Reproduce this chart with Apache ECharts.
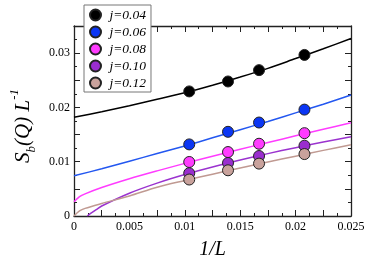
<!DOCTYPE html>
<html><head><meta charset="utf-8">
<script src="https://cdn.jsdelivr.net/npm/echarts@6/dist/echarts.min.js"></script>
<style>html,body{margin:0;padding:0;background:#fff}#c{width:381px;height:265px}</style>
</head><body><div id="c"></div>
<script>
// data points: x = 1/L
const invL = [0.0104, 0.0139, 0.0167, 0.0208];
const names = ['j=0.04', 'j=0.06', 'j=0.08', 'j=0.10', 'j=0.12'];
const pts004 = [0.02295, 0.02478, 0.02687, 0.02967];
const pts006 = [0.01319, 0.01551, 0.01722, 0.01960];
const pts008 = [0.00995, 0.01178, 0.01331, 0.01526];
const pts010 = [0.00788, 0.00977, 0.01105, 0.01295];
const pts012 = [0.00672, 0.00842, 0.00965, 0.01141];
// fitted curves
const fitX = [0, 0.0025, 0.005, 0.0075, 0.01, 0.0125, 0.015, 0.0175, 0.02, 0.0225, 0.025];
const fit004 = [0.0182, 0.0192, 0.0203, 0.0215, 0.0227, 0.0241, 0.0256, 0.0272, 0.0290, 0.0308, 0.0327];
const fit006 = [0.0074, 0.0087, 0.0101, 0.0115, 0.0129, 0.0144, 0.0159, 0.0174, 0.0190, 0.0206, 0.0223];
const fit008X = [0, 0.0005, 0.001, 0.0025, 0.005, 0.0075, 0.01, 0.0125, 0.015, 0.0175, 0.02, 0.0225, 0.025];
const fit008 = [0.00262, 0.00356, 0.00407, 0.00524, 0.00686, 0.00831, 0.00969, 0.01101, 0.01229, 0.01354, 0.01477, 0.01598, 0.01716];
const fit010X = [0.0012, 0.0015, 0.002, 0.0025, 0.005, 0.0075, 0.01, 0.0125, 0.015, 0.0175, 0.02, 0.0225, 0.025];
const fit010 = [0, 0.00047, 0.00117, 0.00185, 0.0042, 0.00606, 0.00764, 0.00904, 0.01032, 0.01149, 0.01259, 0.01362, 0.0146];
const fit012X = [0, 0.0005, 0.001, 0.0025, 0.005, 0.0075, 0.01, 0.0125, 0.015, 0.0175, 0.02, 0.0225, 0.025];
const fit012 = [0, 0.00093, 0.0014, 0.0023, 0.0037, 0.0053, 0.00653, 0.0077, 0.00884, 0.00994, 0.01102, 0.01209, 0.01313];
const xTicks = ['0', '0.005', '0.01', '0.015', '0.02', '0.025'];
const yTicks = ['0', '0.01', '0.02', '0.03'];

const lineColors = ['#000000', '#2357f0', '#ff3cff', '#9b33cf', '#c09a92'];
const markColors = ['#000000', '#0b36f4', '#ff3cff', '#9a2dcf', '#c9a29c'];
const pts = [pts004, pts006, pts008, pts010, pts012];
const fits = [[fitX, fit004], [fitX, fit006], [fit008X, fit008], [fit010X, fit010], [fit012X, fit012]];

const serif = 'Liberation Serif';
const zip = (a, b) => a.map((v, i) => [v, b[i]]);
const series = [];
fits.forEach((f, i) => {
  series.push({type: 'line', name: 'fit' + i, data: zip(f[0], f[1]), smooth: 0.3, symbol: 'none',
    lineStyle: {color: lineColors[i], width: 1.5}, z: 2, silent: true});
});
pts.forEach((p, i) => {
  series.push({type: 'scatter', name: names[i], data: zip(invL, p), symbolSize: 11,
    itemStyle: {color: markColors[i], borderColor: '#222', borderWidth: 1, opacity: 1}, z: 3});
});

const axisLine = {show: true, onZero: false, lineStyle: {color: '#222', width: 1.3}};
const tick = {show: true, inside: true, length: 6, lineStyle: {color: '#222', width: 1}};
const minor = {show: true, splitNumber: 2, length: 3, lineStyle: {color: '#222', width: 1}};
function xAxis(pos, labels) {
  return {type: 'value', position: pos, min: 0, max: 0.025, interval: 0.0025,
    axisLine: axisLine, axisTick: tick, minorTick: minor,
    axisLabel: labels ? {show: true, margin: 5, fontFamily: serif, fontSize: 12, color: '#000',
      formatter: (v) => { const k = Math.round(v / 0.005); return (Math.abs(v - k * 0.005) < 1e-9 && xTicks[k] !== undefined) ? xTicks[k] : ''; }} : {show: false},
    splitLine: {show: false}, minorSplitLine: {show: false},
    name: labels ? '1/L' : '', nameLocation: 'middle', nameGap: 24,
    nameTextStyle: {fontFamily: serif, fontStyle: 'italic', fontSize: 20, color: '#000'}};
}
function yAxis(pos, labels) {
  return {type: 'value', position: pos, min: 0, max: 0.035, interval: 0.005,
    axisLine: axisLine, axisTick: tick, minorTick: minor,
    axisLabel: labels ? {show: true, margin: 4, fontFamily: serif, fontSize: 12, color: '#000',
      formatter: (v) => { const k = Math.round(v / 0.01); return (Math.abs(v - k * 0.01) < 1e-9 && yTicks[k] !== undefined) ? yTicks[k] : ''; }} : {show: false},
    splitLine: {show: false}, minorSplitLine: {show: false},
    name: labels ? '{i|S}{sub|b}{i|(Q) L}{sup|-1}' : '', nameLocation: 'middle', nameGap: 31, nameRotate: 90,
    nameTextStyle: {fontFamily: serif, fontStyle: 'italic', fontSize: 21, color: '#000', padding: [0, 10, 0, 0],
      rich: {
        i: {fontFamily: serif, fontStyle: 'italic', fontSize: 21, lineHeight: 30, color: '#000'},
        sub: {fontFamily: serif, fontStyle: 'italic', fontSize: 13, lineHeight: 13, verticalAlign: 'bottom', color: '#000'},
        sup: {fontFamily: serif, fontStyle: 'italic', fontSize: 13, lineHeight: 13, verticalAlign: 'top', color: '#000'}
      }}};
}

const chart = echarts.init(document.getElementById('c'), null, {renderer: 'canvas'});
chart.setOption({
  animation: false,
  backgroundColor: '#fff',
  grid: {left: 74, right: 30, top: 26, bottom: 48},
  xAxis: [xAxis('bottom', true), xAxis('top', false)],
  yAxis: [yAxis('left', true), yAxis('right', false)],
  legend: {data: names, orient: 'vertical', left: 84, top: 5, padding: [3, 5, 2, 5],
    itemWidth: 18, itemHeight: 11, itemGap: 3, backgroundColor: '#fff', borderColor: '#777', borderWidth: 1,
    textStyle: {fontFamily: serif, fontStyle: 'italic', fontSize: 13.5, color: '#000'},
    z: 10},
  series: series
});
</script></body></html>
